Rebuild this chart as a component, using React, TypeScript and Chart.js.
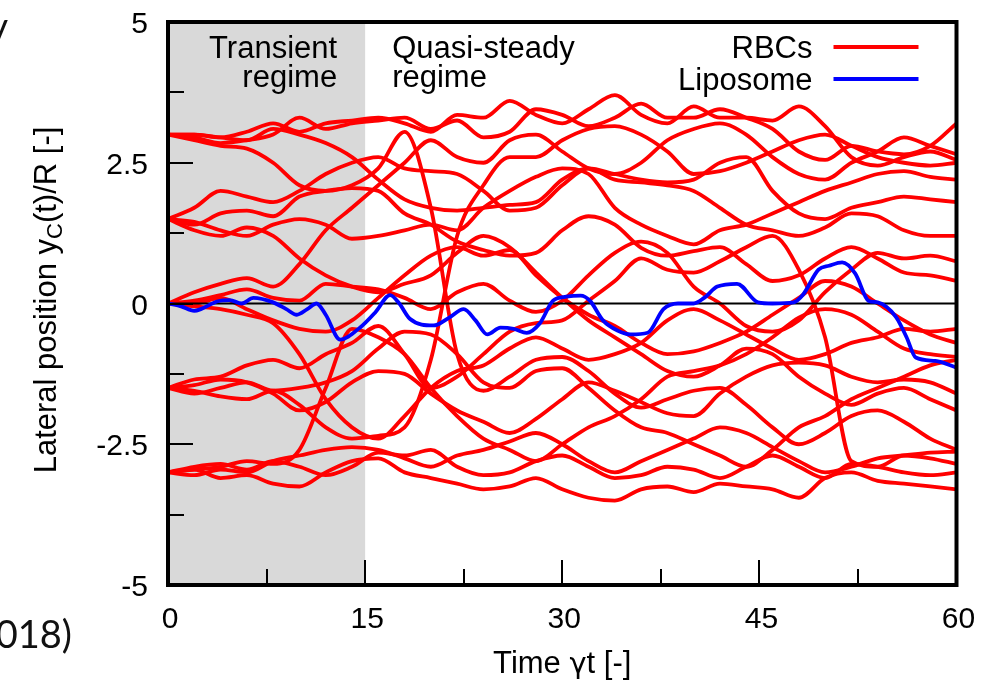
import React, { useEffect, useRef } from 'react';
import { Chart, registerables } from 'chart.js';

Chart.register(...registerables);

// ---------------- data ----------------
const TIME = [0, 2, 4, 6, 8, 10, 12, 14, 16, 18, 20, 22, 24, 26, 28, 30, 32, 34, 36, 38, 40, 42, 44, 46, 48, 50, 52, 54, 56, 58, 60];

// RBC trajectories (lateral position y_c/R), sampled at TIME
const RBC_A1 = [3.0, 3.0, 2.95, 3.05, 3.2, 3.05, 3.2, 3.25, 3.3, 3.2, 3.05, 3.35, 3.3, 3.6, 3.35, 3.2, 3.45, 3.7, 3.35, 3.2, 3.5, 3.3, 3.3, 3.25, 3.5, 3.15, 2.6, 2.45, 2.6, 2.7, 2.55];
const RBC_A2 = [3.0, 2.95, 2.85, 2.9, 3.0, 3.3, 3.1, 3.2, 3.25, 3.3, 3.1, 3.25, 2.95, 3.05, 3.45, 3.35, 3.15, 3.3, 3.55, 3.3, 3.3, 3.45, 3.3, 3.1, 2.7, 2.55, 2.8, 2.7, 2.65, 2.8, 3.2];
const RBC_A3 = [3.0, 2.9, 2.8, 2.75, 2.5, 2.1, 2.0, 2.1, 2.4, 3.05, 1.7, -0.9, -1.55, -1.3, -1.0, -0.95, -1.2, -1.6, -1.85, -1.7, -1.55, -1.5, -1.8, -2.2, -2.5, -2.3, -2.0, -1.9, -2.1, -2.4, -2.6];
const RBC_A4 = [3.0, 3.0, 2.95, 2.9, 3.1, 3.0, 2.85, 2.6, 2.2, 1.85, 1.7, 1.65, 1.7, 1.75, 1.8, 2.2, 2.4, 2.3, 2.2, 2.15, 2.2, 2.5, 2.6, 2.0, 1.6, 1.5, 1.7, 1.8, 1.9, 1.85, 1.8];
const RBC_B1 = [1.5, 1.7, 2.0, 1.9, 1.8, 2.0, 2.3, 2.5, 2.6, 2.4, 2.35, 2.3, 2.0, 1.65, 1.7, 2.1, 2.4, 2.2, 2.15, 2.1, 2.0, 1.7, 1.4, 1.3, 1.2, 1.35, 1.6, 1.55, 1.3, 1.2, 1.2];
const RBC_B2 = [1.5, 1.4, 1.6, 1.65, 1.55, 1.9, 2.0, 2.05, 2.0, 1.6, 1.4, 1.1, 0.95, 0.85, 0.9, 1.3, 1.55, 1.4, 0.99, 0.85, 0.93, 1.0, 0.7, 0.4, 0.5, 0.8, 1.0, 0.8, 0.55, 0.5, 0.4];
const RBC_B3 = [1.5, 1.3, 1.2, 1.35, 1.2, 0.8, 0.5, 0.3, 0.2, 0.35, 0.5, 0.9, 1.2, 1.0, 0.55, 0.1, -0.3, -0.6, -0.9, -1.2, -1.3, -1.1, -0.8, -0.9, -1.3, -1.6, -1.8, -1.6, -1.5, -1.7, -1.9];
const RBC_B4 = [1.5, 1.45, 1.3, 1.2, 1.4, 1.5, 1.4, 1.15, 1.2, 1.3, 1.4, 1.3, 1.7, 2.0, 2.25, 2.4, 2.3, 1.7, 1.4, 1.2, 1.05, 1.3, 1.4, 1.6, 1.8, 2.0, 2.15, 2.3, 2.35, 2.25, 2.2];
const RBC_C1 = [0.0, 0.2, 0.35, 0.45, 0.3, 0.7, 1.3, 1.7, 2.1, 2.5, 2.9, 2.6, 2.5, 2.9, 3.0, 2.7, 2.4, 2.3, 2.5, 2.9, 3.1, 3.2, 3.0, 2.6, 2.3, 2.2, 2.5, 2.7, 2.95, 2.8, 2.65];
const RBC_C2 = [0.0, 0.05, 0.15, 0.25, 0.1, 0.05, 0.35, 0.3, 0.25, 0.1, -0.1, 0.2, 0.35, 0.05, -0.15, 0.05, 0.5, 0.9, 1.1, 0.9, 0.3, 0.0, -0.4, -0.5, -0.3, 0.2, 0.6, 0.9, 0.8, 0.85, 0.75];
const RBC_C3 = [0.0, -0.05, -0.1, -0.2, -0.35, -0.9, -1.7, -2.2, -2.4, -2.0, -1.5, -1.2, -1.1, -0.8, -0.6, -0.8, -1.0, -0.9, -0.7, -0.3, -0.1, -0.3, -0.55, -0.8, -1.0, -0.9, -0.7, -0.6, -0.45, -0.5, -0.45];
const RBC_C4 = [0.0, 0.0, 0.1, -0.1, -0.3, -0.45, -0.5, -0.3, 0.1, 0.5, 0.85, 1.0, 0.85, 0.95, 0.5, 0.1, -0.2, -0.4, -0.7, -0.9, -0.85, -0.7, -0.5, -0.2, 0.1, 0.4, 0.3, 0.0, -0.3, -0.55, -0.7];
const RBC_D1 = [-1.5, -1.35, -1.3, -1.1, -1.0, -1.15, -0.9, -0.7, -0.4, -0.9, -1.5, -1.3, -0.9, -0.5, -0.35, -0.3, 0.05, 0.4, 0.8, 0.6, 0.55, 0.75, 1.0, 1.2, 0.6, -0.6, -2.8, -2.9, -2.7, -2.75, -2.85];
const RBC_D2 = [-1.5, -1.45, -1.35, -1.4, -1.6, -1.9, -1.75, -1.4, -1.2, -1.25, -1.6, -1.9, -2.1, -2.3, -2.05, -1.7, -1.4, -1.55, -1.75, -1.95, -2.0, -1.6, -1.3, -1.1, -1.05, -1.1, -1.3, -1.4, -1.35, -1.4, -1.6];
const RBC_D3 = [-1.5, -1.6, -1.5, -1.4, -1.55, -1.5, -1.4, -1.2, -0.8, -0.5, -0.55, -0.9, -1.4, -1.5, -1.2, -1.15, -1.5, -1.9, -2.2, -2.3, -2.5, -2.7, -2.9, -2.6, -2.2, -2.0, -1.7, -1.5, -1.3, -1.1, -1.0];
const RBC_D4 = [-1.5, -1.55, -1.65, -1.7, -1.55, -1.8, -2.2, -2.4, -2.35, -2.2, -1.0, 1.2, 2.1, 2.6, 2.6, 2.9, 3.1, 3.15, 3.0, 2.7, 2.3, 2.35, 2.5, 2.7, 2.9, 3.0, 2.8, 2.6, 2.5, 2.45, 2.5];
const RBC_E1 = [-3.0, -2.95, -2.9, -2.8, -2.85, -2.6, -1.5, -0.45, -0.6, -0.9, -1.5, -2.0, -2.4, -2.6, -2.8, -2.5, -2.2, -2.0, -1.7, -1.3, -1.2, -1.1, -0.9, -0.6, -0.25, -0.1, -0.2, -0.5, -0.8, -0.9, -0.95];
const RBC_E2 = [-3.0, -3.05, -2.95, -3.0, -2.8, -2.7, -2.6, -2.55, -2.6, -2.75, -2.9, -2.7, -2.6, -2.45, -2.3, -2.5, -2.8, -3.0, -2.8, -2.6, -2.4, -2.2, -2.3, -2.55, -2.8, -3.0, -2.9, -2.75, -2.7, -2.65, -2.63];
const RBC_E3 = [-3.0, -2.95, -3.1, -3.05, -3.2, -3.25, -3.0, -2.8, -2.75, -3.0, -3.1, -3.2, -3.3, -3.25, -3.1, -3.3, -3.45, -3.5, -3.3, -3.25, -3.35, -3.2, -3.25, -3.3, -3.45, -3.1, -3.0, -3.15, -3.2, -3.25, -3.3];
const RBC_E4 = [-3.0, -2.9, -2.85, -2.95, -2.8, -2.9, -3.05, -2.9, -2.65, -2.7, -2.6, -2.9, -3.05, -3.0, -2.8, -2.7, -2.9, -3.1, -3.05, -2.9, -2.95, -3.1, -2.9, -2.7, -2.9, -3.1, -2.85, -2.9, -3.0, -3.05, -3.0];

const RBC_SERIES = [
  RBC_A1, RBC_A2, RBC_A3, RBC_A4,
  RBC_B1, RBC_B2, RBC_B3, RBC_B4,
  RBC_C1, RBC_C2, RBC_C3, RBC_C4,
  RBC_D1, RBC_D2, RBC_D3, RBC_D4,
  RBC_E1, RBC_E2, RBC_E3, RBC_E4,
];

// Liposome trajectory
const LIPO_T = [0, 0.5, 1, 2, 2.5, 3.8, 4.7, 5.6, 6.5, 8, 9, 9.8, 10.6, 11.3, 12, 13.1, 14.6, 15.8, 16.9, 17.6, 18.4, 20.2, 21.4, 22.5, 23.4, 24.3, 25.3, 26.3, 27.3, 28.3, 29.3, 30.3, 31.4, 32.1, 33.1, 34.2, 35.2, 36.5, 37.7, 38.8, 40, 40.8, 41.8, 43.3, 44.9, 46, 47.6, 48.3, 49.5, 50.3, 51.3, 52.3, 53.3, 54, 55.4, 56.2, 56.9, 58.4, 60];
const LIPO_Y = [0, -0.02, -0.05, -0.13, -0.1, 0.04, 0.06, 0.0, 0.1, 0.02, -0.1, -0.2, -0.1, 0.0, -0.2, -0.64, -0.43, -0.15, 0.15, 0.0, -0.27, -0.39, -0.25, -0.1, -0.3, -0.55, -0.43, -0.45, -0.52, -0.35, 0.05, 0.12, 0.14, 0.05, -0.3, -0.48, -0.55, -0.52, -0.1, 0.0, 0.0, 0.1, 0.3, 0.35, 0.02, 0.0, 0.02, 0.15, 0.6, 0.67, 0.73, 0.53, 0.05, 0.02, -0.24, -0.6, -0.96, -1.02, -1.14];

// zero reference line
const ZERO_T = [0, 60];
const ZERO_Y = [0, 0];

// axes
const X_TICK_VALUES = [0, 15, 30, 45, 60];
const X_TICK_LABELS = ['0', '15', '30', '45', '60'];
const Y_TICK_VALUES = [-5, -2.5, 0, 2.5, 5];
const Y_TICK_LABELS = ['-5', '-2.5', '0', '2.5', '5'];
const TRANSIENT_END = 15;

const SERIES_NAMES = ['RBCs', 'Liposome'];

const FONT = "'Liberation Sans', Arial, Helvetica, sans-serif";
const RED = '#ff0000';
const BLUE = '#0000ff';

const overlayPlugin = {
  id: 'overlay',
  beforeDatasetsDraw(chart: any) {
    const { ctx, chartArea: a, scales } = chart;
    const x15 = scales.x.getPixelForValue(TRANSIENT_END);
    ctx.save();
    ctx.fillStyle = '#d9d9d9';
    ctx.fillRect(a.left, a.top, x15 - a.left, a.bottom - a.top);
    ctx.restore();
  },
  afterDraw(chart: any) {
    const { ctx, chartArea: a, scales } = chart;
    const xs = scales.x;
    const ys = scales.y;
    ctx.save();

    // inner tick marks
    ctx.strokeStyle = '#000';
    ctx.lineWidth = 2;
    ys.ticks.forEach((t: any) => {
      const v = t.value;
      if (v <= ys.min + 1e-6 || v >= ys.max - 1e-6) return;
      const major = Math.abs(v / 2.5 - Math.round(v / 2.5)) < 1e-6;
      const len = major ? 25 : 16;
      const py = Math.round(ys.getPixelForValue(v));
      ctx.beginPath();
      ctx.moveTo(a.left, py);
      ctx.lineTo(a.left + len, py);
      ctx.stroke();
    });
    xs.ticks.forEach((t: any) => {
      const v = t.value;
      if (v <= xs.min + 1e-6 || v >= xs.max - 1e-6) return;
      const major = Math.abs(v / 15 - Math.round(v / 15)) < 1e-6;
      const len = major ? 25 : 16;
      const px = Math.round(xs.getPixelForValue(v));
      ctx.beginPath();
      ctx.moveTo(px, a.bottom);
      ctx.lineTo(px, a.bottom - len);
      ctx.stroke();
    });

    // frame
    ctx.lineWidth = 4;
    ctx.strokeRect(a.left, a.top, a.right - a.left, a.bottom - a.top);

    // tick labels
    ctx.fillStyle = '#000';
    ctx.font = `30px ${FONT}`;
    ctx.textBaseline = 'alphabetic';
    ctx.textAlign = 'right';
    Y_TICK_VALUES.forEach((v, i) => {
      ctx.fillText(Y_TICK_LABELS[i], a.left - 20, ys.getPixelForValue(v) + 11);
    });
    ctx.textAlign = 'center';
    X_TICK_VALUES.forEach((v, i) => {
      ctx.fillText(X_TICK_LABELS[i], xs.getPixelForValue(v) + 2, a.bottom + 43);
    });

    // regime annotations
    const x15 = xs.getPixelForValue(TRANSIENT_END);
    ctx.font = `31px ${FONT}`;
    ctx.textAlign = 'right';
    ctx.fillText('Transient', x15 - 28, a.top + 36);
    ctx.fillText('regime', x15 - 28, a.top + 65);
    ctx.textAlign = 'left';
    ctx.fillText('Quasi-steady', x15 + 27, a.top + 36);
    ctx.fillText('regime', x15 + 27, a.top + 65);

    // legend
    const legendTextRight = a.right - 144;
    const lineX1 = a.right - 123;
    const lineX2 = a.right - 38;
    const rows = [
      { name: SERIES_NAMES[0], color: RED, y: a.top + 25 },
      { name: SERIES_NAMES[1], color: BLUE, y: a.top + 57 },
    ];
    rows.forEach((r) => {
      ctx.textAlign = 'right';
      ctx.fillStyle = '#000';
      ctx.fillText(r.name, legendTextRight, r.y + 11);
      ctx.strokeStyle = r.color;
      ctx.lineWidth = 4;
      ctx.beginPath();
      ctx.moveTo(lineX1, r.y);
      ctx.lineTo(lineX2, r.y);
      ctx.stroke();
    });

    // x axis title (gamma in a Greek-friendly face)
    ctx.fillStyle = '#000';
    const xt1 = 'Time ';
    const xg = '\u03b3';
    const xt2 = 't [-]';
    const GREEK = "'DejaVu Sans', sans-serif";
    ctx.font = `31px ${FONT}`;
    const xw1 = ctx.measureText(xt1).width;
    const xw3 = ctx.measureText(xt2).width;
    ctx.font = `29px ${GREEK}`;
    const xw2 = ctx.measureText(xg).width;
    let xx = (a.left + a.right) / 2 - (xw1 + xw2 + xw3) / 2;
    ctx.textAlign = 'left';
    ctx.font = `31px ${FONT}`;
    ctx.fillText(xt1, xx, 673);
    xx += xw1;
    ctx.font = `29px ${GREEK}`;
    ctx.fillText(xg, xx, 673);
    xx += xw2;
    ctx.font = `31px ${FONT}`;
    ctx.fillText(xt2, xx, 673);

    // y axis title with subscript
    const p1 = 'Lateral position y';
    const sub = 'C';
    const p2 = '(t)/R [-]';
    ctx.font = `31px ${FONT}`;
    const w1 = ctx.measureText(p1).width;
    const w3 = ctx.measureText(p2).width;
    ctx.font = `22px ${FONT}`;
    const w2 = ctx.measureText(sub).width;
    const total = w1 + w2 + w3;
    ctx.translate(56, 300);
    ctx.rotate(-Math.PI / 2);
    ctx.textAlign = 'left';
    let cx = -total / 2;
    ctx.font = `31px ${FONT}`;
    ctx.fillText(p1, cx, 0);
    cx += w1;
    ctx.font = `22px ${FONT}`;
    ctx.fillText(sub, cx, 6);
    cx += w2;
    ctx.font = `31px ${FONT}`;
    ctx.fillText(p2, cx, 0);
    ctx.setTransform(1, 0, 0, 1, 0, 0);

    // cropped slide fragments at the left edge
    ctx.fillStyle = '#111';
    ctx.font = `38px Lato, 'Open Sans', sans-serif`;
    ctx.textAlign = 'right';
    ctx.fillText('2018)', 72, 648);
    ctx.fillText('y', 8, 40);

    ctx.restore();
  },
};

export default function App() {
  const canvasRef = useRef<HTMLCanvasElement | null>(null);

  useEffect(() => {
    if (!canvasRef.current) return;

    const rbcDatasets = RBC_SERIES.map((s, i) => ({
      label: i === 0 ? SERIES_NAMES[0] : `${SERIES_NAMES[0]} ${i + 1}`,
      data: TIME.map((t, j) => ({ x: t, y: s[j] })),
      borderColor: RED,
      borderWidth: 3.8,
      pointRadius: 0,
      fill: false,
      cubicInterpolationMode: 'monotone' as const,
      order: 2,
    }));

    const zeroDataset = {
      label: 'zero',
      data: ZERO_T.map((t, j) => ({ x: t, y: ZERO_Y[j] })),
      borderColor: '#000',
      borderWidth: 2,
      pointRadius: 0,
      fill: false,
      order: 1,
    };

    const lipoDataset = {
      label: SERIES_NAMES[1],
      data: LIPO_T.map((t, j) => ({ x: t, y: LIPO_Y[j] })),
      borderColor: BLUE,
      borderWidth: 3.8,
      pointRadius: 0,
      fill: false,
      cubicInterpolationMode: 'monotone' as const,
      order: 0,
    };

    const chart = new Chart(canvasRef.current, {
      type: 'line',
      data: { datasets: [lipoDataset, zeroDataset, ...rbcDatasets] as any },
      options: {
        responsive: false,
        animation: false,
        devicePixelRatio: 1,
        layout: { padding: { top: 22, right: 26.5, left: 0, bottom: 0 } },
        plugins: {
          legend: { display: false },
          tooltip: { enabled: false },
        },
        scales: {
          x: {
            type: 'linear',
            min: 0,
            max: 60,
            grid: { display: false, drawTicks: false },
            border: { display: false },
            ticks: { display: false, stepSize: 7.5, autoSkip: false },
            afterFit: (scale: any) => {
              scale.height = 97;
            },
          },
          y: {
            type: 'linear',
            min: -5,
            max: 5,
            grid: { display: false, drawTicks: false },
            border: { display: false },
            ticks: { display: false, stepSize: 1.25, autoSkip: false },
            afterFit: (scale: any) => {
              scale.width = 168;
            },
          },
        },
      } as any,
      plugins: [overlayPlugin],
    });

    return () => chart.destroy();
  }, []);

  return (
    <div style={{ position: 'fixed', left: 0, top: 0, width: 983, height: 682, background: '#fff' }}>
      <canvas ref={canvasRef} width={983} height={682} style={{ display: 'block' }} />
    </div>
  );
}
